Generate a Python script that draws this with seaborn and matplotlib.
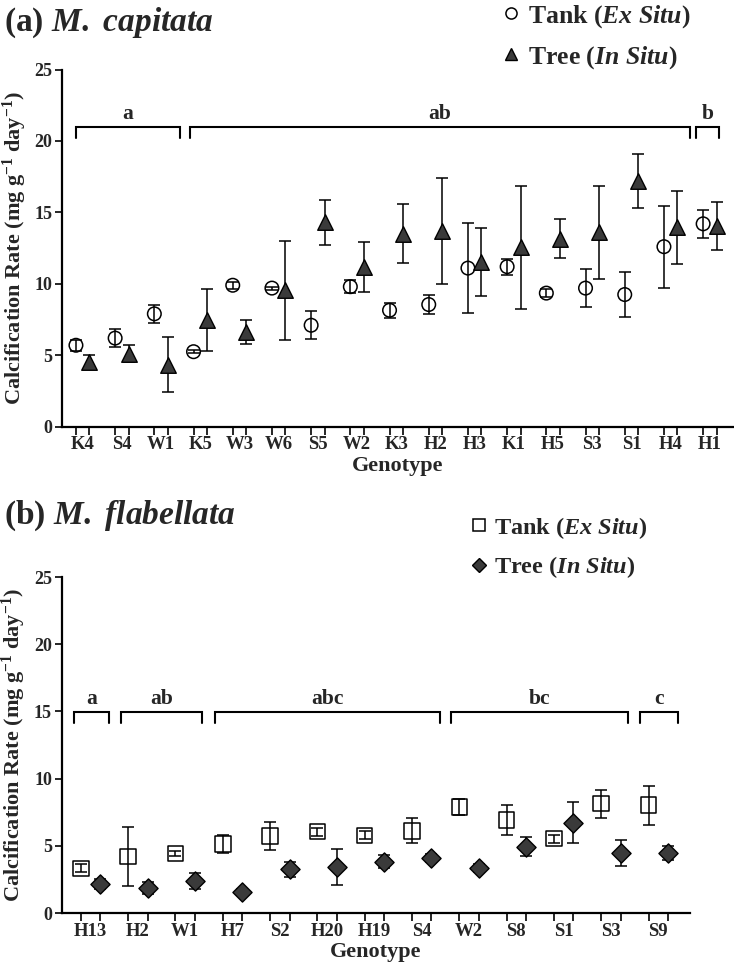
import numpy as np
import pandas as pd
import matplotlib
matplotlib.use("Agg")
import matplotlib.pyplot as plt
import seaborn as sns
from matplotlib.lines import Line2D

# (a) M. capitata
cap_genotypes = ["K4", "S4", "W1", "K5", "W3", "W6", "S5", "W2", "K3",
                 "H2", "H3", "K1", "H5", "S3", "S1", "H4", "H1"]
cap_tank_mean = [5.7, 6.2, 7.9, 5.25, 9.9, 9.7, 7.1, 9.8, 8.15,
                 8.55, 11.1, 11.2, 9.35, 9.7, 9.25, 12.6, 14.2]
cap_tank_sd = [0.37, 0.65, 0.65, 0.1, 0.25, 0.1, 0.97, 0.47, 0.52,
               0.66, 3.13, 0.56, 0.28, 1.32, 1.6, 2.87, 0.97]
cap_tree_mean = [4.55, 5.1, 4.35, 7.45, 6.65, 9.55, 14.3, 11.2, 13.5,
                 13.7, 11.55, 12.55, 13.15, 13.6, 17.2, 13.95, 14.05]
cap_tree_sd = [0.45, 0.6, 1.9, 2.17, 0.85, 3.47, 1.57, 1.76, 2.07,
               3.73, 2.38, 4.3, 1.37, 3.23, 1.88, 2.56, 1.69]
cap_groups = ["a", "ab", "b"]
cap_group_span = [(-0.17, 2.48), (2.74, 15.5), (15.65, 16.23)]

# (b) M. flabellata
fla_genotypes = ["H13", "H2", "W1", "H7", "S2", "H20", "H19", "S4",
                 "W2", "S8", "S1", "S3", "S9"]
fla_tank_mean = [3.32, 4.19, 4.44, 5.13, 5.72, 6.05, 5.78, 6.12,
                 7.9, 6.92, 5.54, 8.13, 8.03]
fla_tank_sd = [0.3, 2.2, 0.2, 0.68, 1.04, 0.3, 0.3, 0.93,
               0.58, 1.08, 0.3, 1.03, 1.45]
fla_tree_mean = [2.13, 1.86, 2.39, 1.55, 3.25, 3.4, 3.8, 4.1,
                 3.32, 4.93, 6.73, 4.48, 4.46]
fla_tree_sd = [0.37, 0.47, 0.6, 0.2, 0.55, 1.33, 0.48, 0.3,
               0.3, 0.69, 1.52, 0.98, 0.52]
fla_groups = ["a", "ab", "abc", "bc", "c"]
fla_group_span = [(-0.34, 0.39), (0.64, 2.36), (2.64, 7.39), (7.61, 11.36), (11.62, 12.42)]

sns.set_style("ticks")
plt.rcParams["font.family"] = ["Liberation Serif", "DejaVu Serif"]
plt.rcParams["font.weight"] = "bold"
plt.rcParams["axes.labelweight"] = "bold"
plt.rcParams["mathtext.fontset"] = "custom"
plt.rcParams["mathtext.rm"] = "Liberation Serif:bold"
plt.rcParams["mathtext.bf"] = "Liberation Serif:bold"
plt.rcParams["mathtext.it"] = "Liberation Serif:italic:bold"

W, H = 734, 969
fig = plt.figure(figsize=(W / 100, H / 100), dpi=100)


def px_axes(left, right, top, bottom):
    return fig.add_axes([left / W, 1 - bottom / H, (right - left) / W, (bottom - top) / H])


def long_table(genos, tm, ts, rm, rs, off):
    idx = np.arange(len(genos))
    tank = pd.DataFrame({"genotype": genos, "pos": idx - off, "mean": tm, "sd": ts, "site": "Tank"})
    tree = pd.DataFrame({"genotype": genos, "pos": idx + off, "mean": rm, "sd": rs, "site": "Tree"})
    return pd.concat([tank, tree], ignore_index=True)


def draw_panel(ax, df, genos, tank_marker, tree_marker, tank_s, tree_s, xlim,
               groups, spans, bracket_y):
    for site in ["Tank", "Tree"]:
        d = df[df.site == site]
        ax.errorbar(d["pos"], d["mean"], yerr=d["sd"], fmt="none", ecolor="black",
                    elinewidth=1.1, capsize=4.4, capthick=1.1, zorder=2)
    tank = df[df.site == "Tank"]
    tree = df[df.site == "Tree"]
    sns.scatterplot(data=tank, x="pos", y="mean", marker=tank_marker, s=tank_s,
                    facecolors="none", edgecolor="black", linewidth=1.1, ax=ax, zorder=3)
    sns.scatterplot(data=tree, x="pos", y="mean", marker=tree_marker, s=tree_s,
                    color="#3a3a3a", edgecolor="black", linewidth=1.0, ax=ax, zorder=3)

    ax.set_xlim(*xlim)
    ax.set_ylim(0, 25)
    ax.set_yticks([0, 5, 10, 15, 20, 25])
    ax.set_xticks(np.arange(len(genos)))
    ax.set_xticklabels(genos)
    ax.set_xticks(sorted(df["pos"]), minor=True)
    ax.tick_params(axis="x", which="major", length=0, pad=7, labelsize=13.5)
    ax.tick_params(axis="x", which="minor", length=6, width=1.4, direction="out")
    ax.tick_params(axis="y", length=5, width=1.4, labelsize=13, pad=2)
    for s in ["left", "bottom"]:
        ax.spines[s].set_linewidth(1.6)
        ax.spines[s].set_color("black")
    sns.despine(ax=ax)
    ax.set_xlabel("Genotype", fontsize=16, labelpad=2)
    ax.set_ylabel("Calcification Rate (mg g$^{-1}$ day$^{-1}$)", fontsize=16, labelpad=4)

    for lab, (x0, x1) in zip(groups, spans):
        ax.plot([x0, x0, x1, x1], [bracket_y - 0.75, bracket_y, bracket_y, bracket_y - 0.75],
                color="black", lw=1.5, solid_joinstyle="miter", clip_on=False)
        ax.text((x0 + x1) / 2, bracket_y + 0.25, lab, ha="center", va="bottom", fontsize=15.5)


df_cap = long_table(cap_genotypes, cap_tank_mean, cap_tank_sd, cap_tree_mean, cap_tree_sd, 0.172)
df_fla = long_table(fla_genotypes, fla_tank_mean, fla_tank_sd, fla_tree_mean, fla_tree_sd, 0.206)

ax1 = px_axes(62.3, 733, 69.5, 426.7)
draw_panel(ax1, df_cap, cap_genotypes, "o", "^", 95, 125, (-0.52, 16.59),
           cap_groups, cap_group_span, 20.95)

ax2 = px_axes(61.7, 690, 577, 913)
draw_panel(ax2, df_fla, fla_genotypes, "s", "D", 125, 95, (-0.61, 12.67),
           fla_groups, fla_group_span, 14.92)

fig.text(4 / W, 1 - 31 / H, "(a) $M.$ $capitata$", fontsize=24, ha="left", va="baseline")
fig.text(4 / W, 1 - 524 / H, "(b) $M.$ $flabellata$", fontsize=24, ha="left", va="baseline")

leg_kw = dict(frameon=False, handlelength=0.7, handletextpad=0.3,
              labelspacing=0.55, borderpad=0, borderaxespad=0, loc="upper left")
h_cap = [Line2D([], [], ls="", marker="o", ms=8, mfc="white", mec="black", mew=1.1),
         Line2D([], [], ls="", marker="^", ms=9, mfc="#3a3a3a", mec="black", mew=1.0)]
fig.legend(h_cap, ["Tank ($Ex$ $Situ$)", "Tree ($In$ $Situ$)"], fontsize=18.5,
           bbox_to_anchor=(502 / W, 1 - 3 / H), **leg_kw)
h_fla = [Line2D([], [], ls="", marker="s", ms=9, mfc="white", mec="black", mew=1.1),
         Line2D([], [], ls="", marker="D", ms=7.5, mfc="#3a3a3a", mec="black", mew=1.0)]
fig.legend(h_fla, ["Tank ($Ex$ $Situ$)", "Tree ($In$ $Situ$)"], fontsize=17.5,
           bbox_to_anchor=(470 / W, 1 - 515 / H), **leg_kw)

fig.savefig("out.png", dpi=100)
